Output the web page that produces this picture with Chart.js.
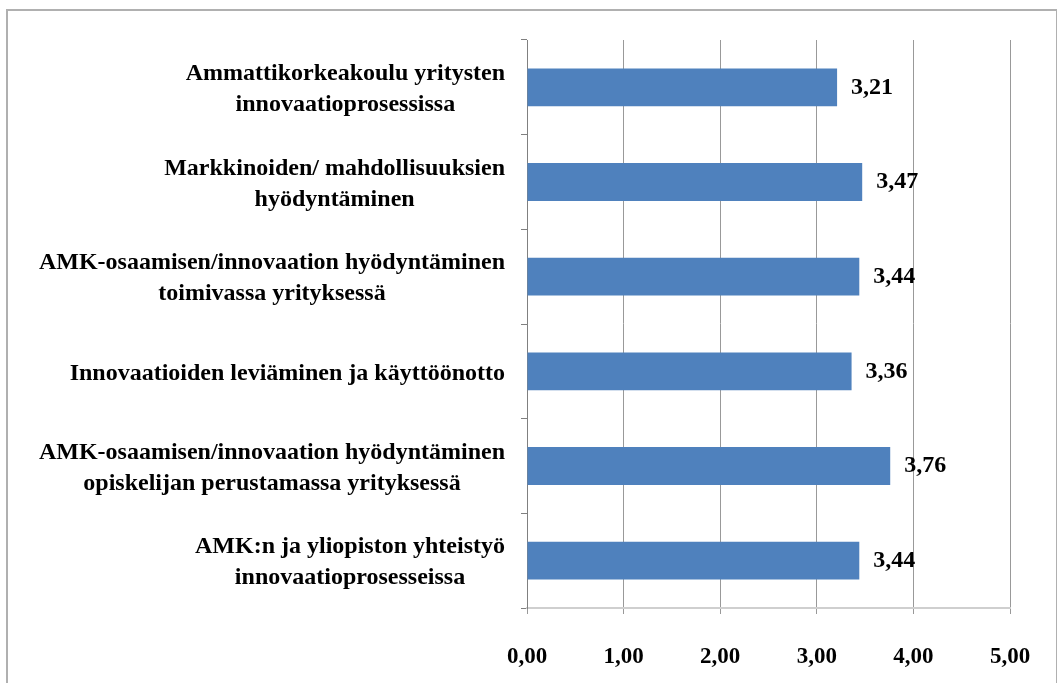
<!DOCTYPE html>
<html>
<head>
<meta charset="utf-8">
<script src="https://cdn.jsdelivr.net/npm/chart.js@4/dist/chart.umd.min.js"></script>
<style>
  html, body { margin: 0; padding: 0; background: #fff; overflow: hidden; }
  #wrap { position: absolute; left: 0; top: 0; width: 1057px; height: 683px; }
  #frame { position: absolute; left: 6px; top: 9px; width: 1052px; height: 700px;
           border: 2px solid #b0b0b0; box-sizing: border-box; pointer-events: none; }
</style>
</head>
<body>
<div id="wrap"><canvas id="chart" width="1057" height="683"></canvas></div>
<div id="frame"></div>
<script>
const categories = [
  ["Ammattikorkeakoulu yritysten", "innovaatioprosessissa"],
  ["Markkinoiden/ mahdollisuuksien", "hyödyntäminen"],
  ["AMK-osaamisen/innovaation hyödyntäminen", "toimivassa yrityksessä"],
  ["Innovaatioiden leviäminen ja käyttöönotto"],
  ["AMK-osaamisen/innovaation hyödyntäminen", "opiskelijan perustamassa yrityksessä"],
  ["AMK:n ja yliopiston yhteistyö", "innovaatioprosesseissa"]
];
const values = [3.21, 3.47, 3.44, 3.36, 3.76, 3.44];
const xTicks = [0, 1, 2, 3, 4, 5];

const fmt = v => v.toFixed(2).replace(".", ",");
const serif = "'Liberation Serif', 'Times New Roman', serif";

// kategoriat oikealle tasattuna, rivit keskitettyinä
const catLabels = {
  id: "catLabels",
  afterDraw(chart) {
    const ctx = chart.ctx;
    const y = chart.scales.y;
    const xRight = chart.scales.x.left - 22;
    ctx.save();
    ctx.font = "bold 24px " + serif;
    ctx.fillStyle = "#000";
    ctx.textBaseline = "middle";
    ctx.textAlign = "center";
    categories.forEach((lines, i) => {
      const w = Math.max(...lines.map(l => ctx.measureText(l).width));
      const cx = xRight - w / 2;
      const cy = y.getPixelForValue(i);
      const lh = 31;
      lines.forEach((l, j) => {
        ctx.fillText(l, cx, cy + (j - (lines.length - 1) / 2) * lh + 2);
      });
    });
    ctx.restore();
  }
};

const valueLabels = {
  id: "valueLabels",
  afterDatasetsDraw(chart) {
    const ctx = chart.ctx;
    const meta = chart.getDatasetMeta(0);
    ctx.save();
    ctx.font = "bold 24px " + serif;
    ctx.fillStyle = "#000";
    ctx.textBaseline = "middle";
    ctx.textAlign = "left";
    meta.data.forEach((bar, i) => {
      ctx.fillText(fmt(values[i]), bar.x + 14, bar.y);
    });
    ctx.restore();
  }
};

new Chart(document.getElementById("chart"), {
  type: "bar",
  data: {
    labels: categories,
    datasets: [{
      data: values,
      backgroundColor: "#4f81bd",
      categoryPercentage: 1,
      barPercentage: 0.4
    }]
  },
  options: {
    indexAxis: "y",
    responsive: false,
    animation: false,
    layout: { padding: { top: 40, right: 47, bottom: 0, left: 0 } },
    plugins: { legend: { display: false }, tooltip: { enabled: false } },
    scales: {
      x: {
        min: 0,
        max: 5,
        afterBuildTicks: s => { s.ticks = xTicks.map(v => ({ value: v })); },
        afterFit: s => { s.height = 75; s.paddingLeft = 0; s.paddingRight = 0; },
        grid: { color: "#999999", lineWidth: 1, tickLength: 6, tickColor: "#999999" },
        border: { color: "#cfcfcf", width: 2 },
        ticks: {
          padding: 29,
          color: "#000",
          font: { family: serif, size: 23, weight: "bold" },
          callback: v => fmt(v)
        }
      },
      y: {
        afterFit: s => { s.width = 527; },
        grid: { drawOnChartArea: false, offset: true, tickLength: 6, color: "#808080" },
        border: { color: "#808080", width: 1 },
        ticks: { display: false }
      }
    }
  },
  plugins: [catLabels, valueLabels]
});
</script>
</body>
</html>
